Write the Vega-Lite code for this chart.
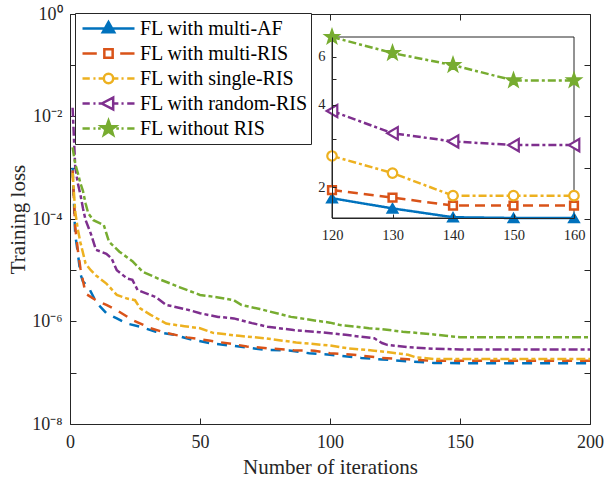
{
  "$schema": "https://vega.github.io/schema/vega-lite/v6.json",
  "width": 520,
  "height": 410,
  "autosize": {"type": "none"},
  "padding": {"left": 70, "top": 14, "right": 16, "bottom": 59},
  "background": "white",
  "config": {
    "font": "Liberation Serif",
    "view": {"stroke": null},
    "axis": {"domainColor": "#262626", "tickColor": "#262626", "labelColor": "#262626", "titleColor": "#262626", "grid": false, "labelFlush": false, "labelOverlap": false, "titleFontWeight": "normal", "labelFont": "Liberation Serif", "titleFont": "Liberation Serif", "domainWidth": 1, "tickWidth": 1},
    "legend": {"orient": "none", "legendX": 5, "legendY": -1, "padding": 3, "rowPadding": 0, "clipHeight": 25, "symbolSize": 2704, "symbolStrokeWidth": 2.5, "symbolOffset": 3, "labelOffset": 4, "labelFontSize": 20, "labelFont": "Liberation Serif", "labelColor": "#000000", "strokeColor": "#262626", "fillColor": "white", "labelLimit": 400}
  },
  "datasets": {
    "loss": [
      {"series": "FL with multi-AF", "x": 1, "loss": 1.0e-3},
      {"series": "FL with multi-AF", "x": 2, "loss": 5.0e-5},
      {"series": "FL with multi-AF", "x": 3, "loss": 2.2e-5},
      {"series": "FL with multi-AF", "x": 4, "loss": 8.5e-6},
      {"series": "FL with multi-AF", "x": 5, "loss": 6.0e-6},
      {"series": "FL with multi-AF", "x": 7, "loss": 4.8e-6},
      {"series": "FL with multi-AF", "x": 10, "loss": 2.4e-6},
      {"series": "FL with multi-AF", "x": 14, "loss": 1.45e-6},
      {"series": "FL with multi-AF", "x": 18, "loss": 1.15e-6},
      {"series": "FL with multi-AF", "x": 22, "loss": 9.1e-7},
      {"series": "FL with multi-AF", "x": 27, "loss": 7.9e-7},
      {"series": "FL with multi-AF", "x": 33, "loss": 6.3e-7},
      {"series": "FL with multi-AF", "x": 40, "loss": 5.5e-7},
      {"series": "FL with multi-AF", "x": 47, "loss": 4.4e-7},
      {"series": "FL with multi-AF", "x": 55, "loss": 3.7e-7},
      {"series": "FL with multi-AF", "x": 65, "loss": 3.25e-7},
      {"series": "FL with multi-AF", "x": 75, "loss": 2.8e-7},
      {"series": "FL with multi-AF", "x": 85, "loss": 2.7e-7},
      {"series": "FL with multi-AF", "x": 92, "loss": 2.4e-7},
      {"series": "FL with multi-AF", "x": 100, "loss": 2.25e-7},
      {"series": "FL with multi-AF", "x": 112, "loss": 1.95e-7},
      {"series": "FL with multi-AF", "x": 120, "loss": 1.82e-7},
      {"series": "FL with multi-AF", "x": 130, "loss": 1.67e-7},
      {"series": "FL with multi-AF", "x": 140, "loss": 1.55e-7},
      {"series": "FL with multi-AF", "x": 150, "loss": 1.54e-7},
      {"series": "FL with multi-AF", "x": 160, "loss": 1.54e-7},
      {"series": "FL with multi-AF", "x": 200, "loss": 1.54e-7},
      {"series": "FL with multi-RIS", "x": 1, "loss": 8.9e-4},
      {"series": "FL with multi-RIS", "x": 2, "loss": 7.1e-5},
      {"series": "FL with multi-RIS", "x": 3, "loss": 2.5e-5},
      {"series": "FL with multi-RIS", "x": 4, "loss": 1.1e-5},
      {"series": "FL with multi-RIS", "x": 6, "loss": 3.5e-6},
      {"series": "FL with multi-RIS", "x": 10, "loss": 2.6e-6},
      {"series": "FL with multi-RIS", "x": 14, "loss": 2.1e-6},
      {"series": "FL with multi-RIS", "x": 18, "loss": 1.66e-6},
      {"series": "FL with multi-RIS", "x": 24, "loss": 1.07e-6},
      {"series": "FL with multi-RIS", "x": 31, "loss": 7.4e-7},
      {"series": "FL with multi-RIS", "x": 37, "loss": 6.0e-7},
      {"series": "FL with multi-RIS", "x": 45, "loss": 4.9e-7},
      {"series": "FL with multi-RIS", "x": 50, "loss": 4.5e-7},
      {"series": "FL with multi-RIS", "x": 54, "loss": 4.2e-7},
      {"series": "FL with multi-RIS", "x": 63, "loss": 3.6e-7},
      {"series": "FL with multi-RIS", "x": 68, "loss": 3.25e-7},
      {"series": "FL with multi-RIS", "x": 76, "loss": 3.0e-7},
      {"series": "FL with multi-RIS", "x": 86, "loss": 2.75e-7},
      {"series": "FL with multi-RIS", "x": 94, "loss": 2.7e-7},
      {"series": "FL with multi-RIS", "x": 100, "loss": 2.4e-7},
      {"series": "FL with multi-RIS", "x": 109, "loss": 2.25e-7},
      {"series": "FL with multi-RIS", "x": 120, "loss": 1.95e-7},
      {"series": "FL with multi-RIS", "x": 130, "loss": 1.83e-7},
      {"series": "FL with multi-RIS", "x": 140, "loss": 1.71e-7},
      {"series": "FL with multi-RIS", "x": 150, "loss": 1.71e-7},
      {"series": "FL with multi-RIS", "x": 160, "loss": 1.71e-7},
      {"series": "FL with multi-RIS", "x": 200, "loss": 1.71e-7},
      {"series": "FL with single-RIS", "x": 1, "loss": 7.9e-4},
      {"series": "FL with single-RIS", "x": 2, "loss": 1.4e-4},
      {"series": "FL with single-RIS", "x": 3, "loss": 6.3e-5},
      {"series": "FL with single-RIS", "x": 4, "loss": 3.5e-5},
      {"series": "FL with single-RIS", "x": 6, "loss": 1.35e-5},
      {"series": "FL with single-RIS", "x": 8, "loss": 1.0e-5},
      {"series": "FL with single-RIS", "x": 10, "loss": 7.9e-6},
      {"series": "FL with single-RIS", "x": 14, "loss": 5.5e-6},
      {"series": "FL with single-RIS", "x": 18, "loss": 3.3e-6},
      {"series": "FL with single-RIS", "x": 22, "loss": 2.8e-6},
      {"series": "FL with single-RIS", "x": 25, "loss": 2.6e-6},
      {"series": "FL with single-RIS", "x": 27, "loss": 1.8e-6},
      {"series": "FL with single-RIS", "x": 31, "loss": 1.35e-6},
      {"series": "FL with single-RIS", "x": 37, "loss": 9.1e-7},
      {"series": "FL with single-RIS", "x": 44, "loss": 8.1e-7},
      {"series": "FL with single-RIS", "x": 50, "loss": 7.4e-7},
      {"series": "FL with single-RIS", "x": 55, "loss": 6.0e-7},
      {"series": "FL with single-RIS", "x": 65, "loss": 5.25e-7},
      {"series": "FL with single-RIS", "x": 75, "loss": 4.7e-7},
      {"series": "FL with single-RIS", "x": 87, "loss": 3.9e-7},
      {"series": "FL with single-RIS", "x": 100, "loss": 3.4e-7},
      {"series": "FL with single-RIS", "x": 107, "loss": 3.0e-7},
      {"series": "FL with single-RIS", "x": 117, "loss": 2.7e-7},
      {"series": "FL with single-RIS", "x": 120, "loss": 2.6e-7},
      {"series": "FL with single-RIS", "x": 127, "loss": 2.35e-7},
      {"series": "FL with single-RIS", "x": 130, "loss": 2.25e-7},
      {"series": "FL with single-RIS", "x": 133, "loss": 2.0e-7},
      {"series": "FL with single-RIS", "x": 140, "loss": 1.86e-7},
      {"series": "FL with single-RIS", "x": 150, "loss": 1.86e-7},
      {"series": "FL with single-RIS", "x": 160, "loss": 1.86e-7},
      {"series": "FL with single-RIS", "x": 200, "loss": 1.86e-7},
      {"series": "FL with random-RIS", "x": 1, "loss": 1.48e-2},
      {"series": "FL with random-RIS", "x": 2, "loss": 1.05e-3},
      {"series": "FL with random-RIS", "x": 3, "loss": 5.0e-4},
      {"series": "FL with random-RIS", "x": 4, "loss": 3.0e-4},
      {"series": "FL with random-RIS", "x": 5, "loss": 1.6e-4},
      {"series": "FL with random-RIS", "x": 6, "loss": 9.5e-5},
      {"series": "FL with random-RIS", "x": 8, "loss": 5.2e-5},
      {"series": "FL with random-RIS", "x": 10, "loss": 2.5e-5},
      {"series": "FL with random-RIS", "x": 14, "loss": 2.1e-5},
      {"series": "FL with random-RIS", "x": 16, "loss": 1.7e-5},
      {"series": "FL with random-RIS", "x": 18, "loss": 1.0e-5},
      {"series": "FL with random-RIS", "x": 22, "loss": 6.9e-6},
      {"series": "FL with random-RIS", "x": 24, "loss": 6.5e-6},
      {"series": "FL with random-RIS", "x": 26, "loss": 4.1e-6},
      {"series": "FL with random-RIS", "x": 33, "loss": 3.0e-6},
      {"series": "FL with random-RIS", "x": 37, "loss": 2.1e-6},
      {"series": "FL with random-RIS", "x": 40, "loss": 1.95e-6},
      {"series": "FL with random-RIS", "x": 46, "loss": 1.66e-6},
      {"series": "FL with random-RIS", "x": 50, "loss": 1.45e-6},
      {"series": "FL with random-RIS", "x": 57, "loss": 1.23e-6},
      {"series": "FL with random-RIS", "x": 63, "loss": 1.15e-6},
      {"series": "FL with random-RIS", "x": 70, "loss": 9.3e-7},
      {"series": "FL with random-RIS", "x": 76, "loss": 7.9e-7},
      {"series": "FL with random-RIS", "x": 86, "loss": 6.8e-7},
      {"series": "FL with random-RIS", "x": 96, "loss": 6.2e-7},
      {"series": "FL with random-RIS", "x": 106, "loss": 5.5e-7},
      {"series": "FL with random-RIS", "x": 117, "loss": 4.7e-7},
      {"series": "FL with random-RIS", "x": 120, "loss": 3.8e-7},
      {"series": "FL with random-RIS", "x": 122, "loss": 3.5e-7},
      {"series": "FL with random-RIS", "x": 130, "loss": 3.15e-7},
      {"series": "FL with random-RIS", "x": 140, "loss": 2.94e-7},
      {"series": "FL with random-RIS", "x": 150, "loss": 2.85e-7},
      {"series": "FL with random-RIS", "x": 160, "loss": 2.85e-7},
      {"series": "FL with random-RIS", "x": 200, "loss": 2.85e-7},
      {"series": "FL without RIS", "x": 1, "loss": 2.5e-3},
      {"series": "FL without RIS", "x": 2, "loss": 1.2e-3},
      {"series": "FL without RIS", "x": 3, "loss": 7.9e-4},
      {"series": "FL without RIS", "x": 4, "loss": 5.0e-4},
      {"series": "FL without RIS", "x": 5, "loss": 3.5e-4},
      {"series": "FL without RIS", "x": 6, "loss": 2.0e-4},
      {"series": "FL without RIS", "x": 7, "loss": 1.3e-4},
      {"series": "FL without RIS", "x": 9, "loss": 9.5e-5},
      {"series": "FL without RIS", "x": 11, "loss": 8.5e-5},
      {"series": "FL without RIS", "x": 13, "loss": 7.6e-5},
      {"series": "FL without RIS", "x": 15, "loss": 3.6e-5},
      {"series": "FL without RIS", "x": 19, "loss": 2.3e-5},
      {"series": "FL without RIS", "x": 24, "loss": 1.5e-5},
      {"series": "FL without RIS", "x": 28, "loss": 9.3e-6},
      {"series": "FL without RIS", "x": 35, "loss": 6.5e-6},
      {"series": "FL without RIS", "x": 42, "loss": 4.7e-6},
      {"series": "FL without RIS", "x": 50, "loss": 3.3e-6},
      {"series": "FL without RIS", "x": 57, "loss": 2.95e-6},
      {"series": "FL without RIS", "x": 63, "loss": 2.6e-6},
      {"series": "FL without RIS", "x": 66, "loss": 2.1e-6},
      {"series": "FL without RIS", "x": 73, "loss": 1.75e-6},
      {"series": "FL without RIS", "x": 85, "loss": 1.23e-6},
      {"series": "FL without RIS", "x": 94, "loss": 1.05e-6},
      {"series": "FL without RIS", "x": 100, "loss": 9.5e-7},
      {"series": "FL without RIS", "x": 104, "loss": 8.5e-7},
      {"series": "FL without RIS", "x": 115, "loss": 7.4e-7},
      {"series": "FL without RIS", "x": 120, "loss": 7.1e-7},
      {"series": "FL without RIS", "x": 128, "loss": 6.3e-7},
      {"series": "FL without RIS", "x": 130, "loss": 6.2e-7},
      {"series": "FL without RIS", "x": 140, "loss": 5.6e-7},
      {"series": "FL without RIS", "x": 147, "loss": 5.1e-7},
      {"series": "FL without RIS", "x": 150, "loss": 4.92e-7},
      {"series": "FL without RIS", "x": 160, "loss": 4.92e-7},
      {"series": "FL without RIS", "x": 200, "loss": 4.92e-7}
    ]
  },
  "data": {"name": "loss"},
  "layer": [
    {
      "mark": {"type": "line", "strokeWidth": 2.5, "clip": true},
      "encoding": {
        "x": {"field": "x", "type": "quantitative", "scale": {"domain": [0, 200], "nice": false, "zero": false},
          "axis": {"orient": "bottom", "values": [0, 50, 100, 150, 200], "format": "d", "tickSize": -6, "labelPadding": 15, "labelFontSize": 18, "title": "Number of iterations", "titleFontSize": 21, "titlePadding": 5}},
        "y": {"field": "loss", "type": "quantitative", "scale": {"type": "log", "domain": [1e-8, 1], "nice": false},
          "axis": {"orient": "left", "values": [1e-8, 1e-7, 1e-6, 1e-5, 1e-4, 1e-3, 1e-2, 1e-1, 1], "tickSize": -6, "labelPadding": 14, "labelFontSize": 18,
            "labelExpr": "datum.value > 0.5 ? '10⁰' : (datum.value > 0.005 && datum.value < 0.02) ? '10⁻²' : (datum.value > 0.00005 && datum.value < 0.0002) ? '10⁻⁴' : (datum.value > 0.0000005 && datum.value < 0.000002) ? '10⁻⁶' : datum.value < 0.00000002 ? '10⁻⁸' : ''",
            "title": "Training loss", "titleFontSize": 21, "titlePadding": 3}},
        "color": {"field": "series", "type": "nominal", "scale": {"domain": ["FL with multi-AF", "FL with multi-RIS", "FL with single-RIS", "FL with random-RIS", "FL without RIS"], "range": ["#0072BD", "#D95319", "#EDB120", "#7E2F8E", "#77AC30"]}, "legend": null},
        "strokeDash": {"field": "series", "type": "nominal", "scale": {"domain": ["FL with multi-AF", "FL with multi-RIS", "FL with single-RIS", "FL with random-RIS", "FL without RIS"], "range": [[10, 8], [10, 8], [9, 3, 4, 3], [9, 3, 4, 3], [9, 3, 4, 3]]}, "legend": null}
      }
    },
    {
      "transform": [{"filter": "false"}],
      "mark": {"type": "point", "filled": true, "opacity": 1, "size": 2704, "strokeWidth": 2.5},
      "encoding": {
        "x": {"field": "x", "type": "quantitative", "scale": {"domain": [0, 200], "nice": false, "zero": false},
          "axis": {"orient": "top", "values": [0, 50, 100, 150, 200], "tickSize": -6, "labels": false, "title": null}},
        "y": {"field": "loss", "type": "quantitative", "scale": {"type": "log", "domain": [1e-8, 1], "nice": false},
          "axis": {"orient": "right", "values": [1e-8, 1e-7, 1e-6, 1e-5, 1e-4, 1e-3, 1e-2, 1e-1, 1], "tickSize": -6, "labels": false, "title": null}},
        "shape": {"field": "series", "type": "nominal", "scale": {"domain": ["FL with multi-AF", "FL with multi-RIS", "FL with single-RIS", "FL with random-RIS", "FL without RIS"],
          "range": [
            "M-1,0H1M0,-0.25L0.22,0.14L-0.22,0.14Z",
            "M-1,0H-0.45M0.45,0H1M-0.16,-0.16H0.16V0.16H-0.16Z",
            "M-1,0H-0.72M-0.58,0H-0.5M-0.38,0H-0.2M0.2,0H0.38M0.5,0H0.58M0.72,0H1M0.18,0A0.18,0.18 0 1,1 -0.18,0A0.18,0.18 0 1,1 0.18,0Z",
            "M-1,0H-0.72M-0.58,0H-0.5M-0.38,0H-0.26M0.2,0H0.38M0.5,0H0.58M0.72,0H1M-0.26,0L0.18,-0.23L0.18,0.23Z",
            "M-1,0H-0.72M-0.58,0H-0.5M-0.4,0H-0.3M0.3,0H0.4M0.5,0H0.58M0.72,0H1M0,-0.3L0.071,-0.098L0.285,-0.093L0.116,0.038L0.176,0.243L0,0.122L-0.176,0.243L-0.116,0.038L-0.285,-0.093L-0.071,-0.098Z"
          ]},
          "legend": {"title": null}},
        "stroke": {"field": "series", "type": "nominal", "scale": {"domain": ["FL with multi-AF", "FL with multi-RIS", "FL with single-RIS", "FL with random-RIS", "FL without RIS"], "range": ["#0072BD", "#D95319", "#EDB120", "#7E2F8E", "#77AC30"]}, "legend": {"title": null}},
        "fill": {"field": "series", "type": "nominal", "scale": {"domain": ["FL with multi-AF", "FL with multi-RIS", "FL with single-RIS", "FL with random-RIS", "FL without RIS"], "range": ["#0072BD", "#FFFFFF", "#FFFFFF", "#FFFFFF", "#77AC30"]}, "legend": {"title": null}}
      }
    },
    {
      "transform": [{"filter": "datum.x >= 120 && datum.x <= 160 && datum.x % 10 == 0"}],
      "mark": {"type": "rect", "fill": "white", "stroke": "#262626", "strokeWidth": 1},
      "encoding": {
        "x": {"aggregate": "min", "field": "x", "type": "quantitative", "scale": {"domain": [120, 160], "range": [262, 504], "nice": false, "zero": false}, "axis": null},
        "x2": {"aggregate": "max", "field": "x"},
        "y": {"aggregate": "min", "field": "loss", "type": "quantitative", "scale": {"type": "log", "domain": [1.54e-7, 7.1e-7], "range": [204, 23], "nice": false}, "axis": null},
        "y2": {"aggregate": "max", "field": "loss"}
      }
    },
    {
      "transform": [{"filter": "datum.x >= 120 && datum.x <= 160 && datum.x % 10 == 0"}],
      "mark": {"type": "line", "strokeWidth": 2.5},
      "encoding": {
        "x": {"field": "x", "type": "quantitative", "scale": {"domain": [120, 160], "range": [262, 504], "nice": false, "zero": false},
          "axis": {"orient": "bottom", "offset": -206, "zindex": 1, "values": [120, 130, 140, 150, 160], "format": "d", "tickSize": -4, "labelPadding": 14, "labelFontSize": 14.5, "title": null}},
        "y": {"field": "loss", "type": "quantitative", "scale": {"type": "log", "domain": [1.54e-7, 7.1e-7], "range": [204, 23], "nice": false},
          "axis": {"orient": "left", "offset": -262, "zindex": 1, "values": [2e-7, 3e-7, 4e-7, 5e-7, 6e-7], "tickSize": -4, "labelPadding": 11, "labelFontSize": 14.5, "title": null,
            "labelExpr": "round(datum.value * 10000000) % 2 == 0 ? '' + round(datum.value * 10000000) : ''"}},
        "color": {"field": "series", "type": "nominal", "scale": {"domain": ["FL with multi-AF", "FL with multi-RIS", "FL with single-RIS", "FL with random-RIS", "FL without RIS"], "range": ["#0072BD", "#D95319", "#EDB120", "#7E2F8E", "#77AC30"]}, "legend": null},
        "strokeDash": {"field": "series", "type": "nominal", "scale": {"domain": ["FL with multi-AF", "FL with multi-RIS", "FL with single-RIS", "FL with random-RIS", "FL without RIS"], "range": [[1, 0], [10, 6], [8, 3, 3, 3], [8, 3, 3, 3], [8, 3, 3, 3]]}, "legend": null}
      }
    },
    {
      "transform": [{"filter": "datum.series == 'FL with multi-AF' && datum.x >= 120 && datum.x <= 160 && datum.x % 10 == 0"}],
      "mark": {"type": "point", "shape": "triangle-up", "filled": true, "fill": "#0072BD", "stroke": "#0072BD", "strokeWidth": 2, "size": 100, "opacity": 1},
      "encoding": {
        "x": {"field": "x", "type": "quantitative", "scale": {"domain": [120, 160], "range": [262, 504], "nice": false, "zero": false}, "axis": null},
        "y": {"field": "loss", "type": "quantitative", "scale": {"type": "log", "domain": [1.54e-7, 7.1e-7], "range": [204, 23], "nice": false}, "axis": null}
      }
    },
    {
      "transform": [{"filter": "datum.series == 'FL with multi-RIS' && datum.x >= 120 && datum.x <= 160 && datum.x % 10 == 0"}],
      "mark": {"type": "point", "shape": "square", "filled": true, "fill": "#FFFFFF", "stroke": "#D95319", "strokeWidth": 2.5, "size": 60, "opacity": 1},
      "encoding": {
        "x": {"field": "x", "type": "quantitative", "scale": {"domain": [120, 160], "range": [262, 504], "nice": false, "zero": false}, "axis": null},
        "y": {"field": "loss", "type": "quantitative", "scale": {"type": "log", "domain": [1.54e-7, 7.1e-7], "range": [204, 23], "nice": false}, "axis": null}
      }
    },
    {
      "transform": [{"filter": "datum.series == 'FL with single-RIS' && datum.x >= 120 && datum.x <= 160 && datum.x % 10 == 0"}],
      "mark": {"type": "point", "shape": "circle", "filled": true, "fill": "#FFFFFF", "stroke": "#EDB120", "strokeWidth": 2.2, "size": 90, "opacity": 1},
      "encoding": {
        "x": {"field": "x", "type": "quantitative", "scale": {"domain": [120, 160], "range": [262, 504], "nice": false, "zero": false}, "axis": null},
        "y": {"field": "loss", "type": "quantitative", "scale": {"type": "log", "domain": [1.54e-7, 7.1e-7], "range": [204, 23], "nice": false}, "axis": null}
      }
    },
    {
      "transform": [{"filter": "datum.series == 'FL with random-RIS' && datum.x >= 120 && datum.x <= 160 && datum.x % 10 == 0"}],
      "mark": {"type": "point", "shape": "triangle-left", "filled": true, "fill": "#FFFFFF", "stroke": "#7E2F8E", "strokeWidth": 2.2, "size": 150, "opacity": 1},
      "encoding": {
        "x": {"field": "x", "type": "quantitative", "scale": {"domain": [120, 160], "range": [262, 504], "nice": false, "zero": false}, "axis": null},
        "y": {"field": "loss", "type": "quantitative", "scale": {"type": "log", "domain": [1.54e-7, 7.1e-7], "range": [204, 23], "nice": false}, "axis": null}
      }
    },
    {
      "transform": [{"filter": "datum.series == 'FL without RIS' && datum.x >= 120 && datum.x <= 160 && datum.x % 10 == 0"}],
      "mark": {"type": "point", "shape": "M0,-1L0.238,-0.328L0.951,-0.309L0.386,0.125L0.588,0.809L0,0.406L-0.588,0.809L-0.386,0.125L-0.951,-0.309L-0.238,-0.328Z", "filled": true, "fill": "#77AC30", "stroke": "#77AC30", "strokeWidth": 1.5, "size": 240, "opacity": 1},
      "encoding": {
        "x": {"field": "x", "type": "quantitative", "scale": {"domain": [120, 160], "range": [262, 504], "nice": false, "zero": false}, "axis": null},
        "y": {"field": "loss", "type": "quantitative", "scale": {"type": "log", "domain": [1.54e-7, 7.1e-7], "range": [204, 23], "nice": false}, "axis": null}
      }
    }
  ],
  "resolve": {"scale": {"x": "independent", "y": "independent", "strokeDash": "independent", "color": "independent"}, "axis": {"x": "independent", "y": "independent"}}
}
